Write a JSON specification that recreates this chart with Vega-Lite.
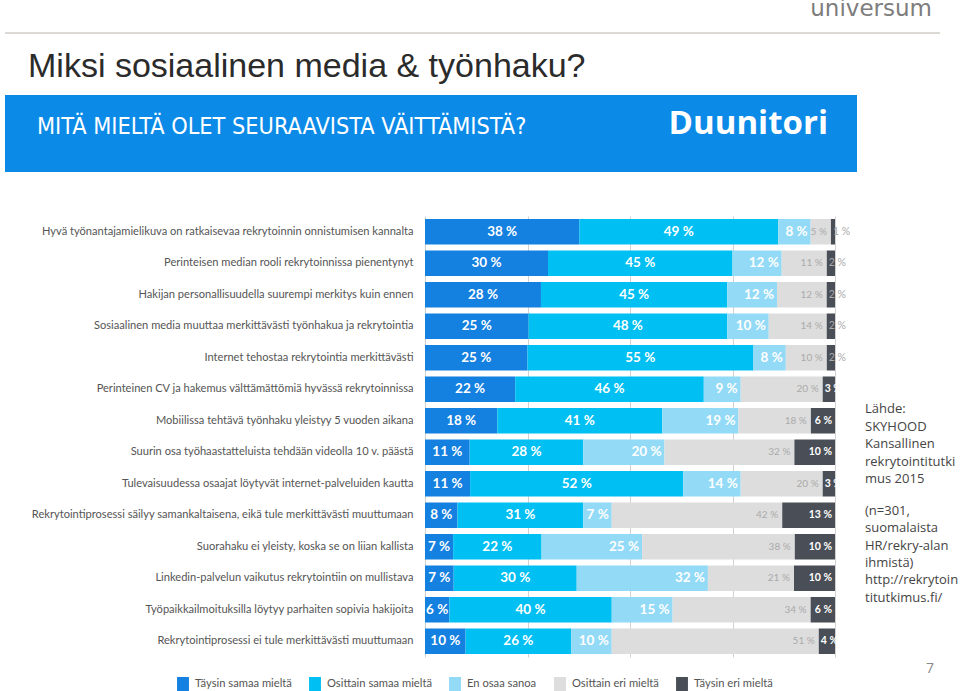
{
  "$schema": "https://vega.github.io/schema/vega-lite/v6.json",
  "background": "white",
  "padding": {"left": 5, "top": -2, "right": 0, "bottom": 0},
  "config": {"view": {"stroke": null}, "font": "Lato", "title": {"fontWeight": "normal"}},
  "datasets": {
    "answers": [
      {"q": "Hyvä työnantajamielikuva on ratkaisevaa rekrytoinnin onnistumisen kannalta", "Täysin samaa mieltä": 38, "Osittain samaa mieltä": 49, "En osaa sanoa": 8, "Osittain eri mieltä": 5, "Täysin eri mieltä": 1},
      {"q": "Perinteisen median rooli rekrytoinnissa pienentynyt", "Täysin samaa mieltä": 30, "Osittain samaa mieltä": 45, "En osaa sanoa": 12, "Osittain eri mieltä": 11, "Täysin eri mieltä": 2},
      {"q": "Hakijan personallisuudella suurempi merkitys kuin ennen", "Täysin samaa mieltä": 28, "Osittain samaa mieltä": 45, "En osaa sanoa": 12, "Osittain eri mieltä": 12, "Täysin eri mieltä": 2},
      {"q": "Sosiaalinen media muuttaa merkittävästi työnhakua ja rekrytointia", "Täysin samaa mieltä": 25, "Osittain samaa mieltä": 48, "En osaa sanoa": 10, "Osittain eri mieltä": 14, "Täysin eri mieltä": 2},
      {"q": "Internet tehostaa rekrytointia merkittävästi", "Täysin samaa mieltä": 25, "Osittain samaa mieltä": 55, "En osaa sanoa": 8, "Osittain eri mieltä": 10, "Täysin eri mieltä": 2},
      {"q": "Perinteinen CV ja hakemus välttämättömiä hyvässä rekrytoinnissa", "Täysin samaa mieltä": 22, "Osittain samaa mieltä": 46, "En osaa sanoa": 9, "Osittain eri mieltä": 20, "Täysin eri mieltä": 3},
      {"q": "Mobiilissa tehtävä työnhaku yleistyy 5 vuoden aikana", "Täysin samaa mieltä": 18, "Osittain samaa mieltä": 41, "En osaa sanoa": 19, "Osittain eri mieltä": 18, "Täysin eri mieltä": 6},
      {"q": "Suurin osa työhaastatteluista tehdään videolla 10 v. päästä", "Täysin samaa mieltä": 11, "Osittain samaa mieltä": 28, "En osaa sanoa": 20, "Osittain eri mieltä": 32, "Täysin eri mieltä": 10},
      {"q": "Tulevaisuudessa osaajat löytyvät internet-palveluiden kautta", "Täysin samaa mieltä": 11, "Osittain samaa mieltä": 52, "En osaa sanoa": 14, "Osittain eri mieltä": 20, "Täysin eri mieltä": 3},
      {"q": "Rekrytointiprosessi säilyy samankaltaisena, eikä tule merkittävästi muuttumaan", "Täysin samaa mieltä": 8, "Osittain samaa mieltä": 31, "En osaa sanoa": 7, "Osittain eri mieltä": 42, "Täysin eri mieltä": 13},
      {"q": "Suorahaku ei yleisty, koska se on liian kallista", "Täysin samaa mieltä": 7, "Osittain samaa mieltä": 22, "En osaa sanoa": 25, "Osittain eri mieltä": 38, "Täysin eri mieltä": 10},
      {"q": "Linkedin-palvelun vaikutus rekrytointiin on mullistava", "Täysin samaa mieltä": 7, "Osittain samaa mieltä": 30, "En osaa sanoa": 32, "Osittain eri mieltä": 21, "Täysin eri mieltä": 10},
      {"q": "Työpaikkailmoituksilla löytyy parhaiten sopivia hakijoita", "Täysin samaa mieltä": 6, "Osittain samaa mieltä": 40, "En osaa sanoa": 15, "Osittain eri mieltä": 34, "Täysin eri mieltä": 6},
      {"q": "Rekrytointiprosessi ei tule merkittävästi muuttumaan", "Täysin samaa mieltä": 10, "Osittain samaa mieltä": 26, "En osaa sanoa": 10, "Osittain eri mieltä": 51, "Täysin eri mieltä": 4}
    ],
    "cats": [
      {"c": "Täysin samaa mieltä", "o": 1},
      {"c": "Osittain samaa mieltä", "o": 2},
      {"c": "En osaa sanoa", "o": 3},
      {"c": "Osittain eri mieltä", "o": 4},
      {"c": "Täysin eri mieltä", "o": 5}
    ]
  },
  "spacing": 16,
  "vconcat": [
    {
      "width": 935,
      "height": 2,
      "view": {"fill": "#dcd9d5", "stroke": null},
      "data": {"values": [{"k": "u", "t": "universum"}]},
      "mark": {"type": "text", "align": "right", "baseline": "alphabetic", "font": "DejaVu Sans", "fontSize": 23, "color": "#7d7d7d"},
      "encoding": {
        "x": {"field": "k", "type": "nominal", "axis": null, "scale": {"range": [927, 927], "padding": 0}},
        "y": {"field": "k", "type": "nominal", "axis": null, "scale": {"range": [-16, -16], "padding": 0}},
        "text": {"field": "t"}
      }
    },
    {
      "width": 852,
      "height": 77,
      "view": {"fill": "#0b8ae7", "stroke": null},
      "title": {"text": "Miksi sosiaalinen media & työnhaku?", "anchor": "start", "font": "Liberation Sans", "fontSize": 34, "color": "#2b2b2b", "baseline": "alphabetic", "offset": -16, "dx": 23},
      "data": {"values": [{"k": "a", "t": "MITÄ MIELTÄ OLET SEURAAVISTA VÄITTÄMISTÄ?"}, {"k": "b", "t": "Duunitori"}]},
      "encoding": {
        "x": {"field": "k", "type": "nominal", "axis": null, "scale": {"domain": ["a", "b"], "range": [32, 823], "padding": 0}},
        "text": {"field": "t"}
      },
      "layer": [
        {"transform": [{"filter": "datum.k == 'a'"}], "mark": {"type": "text", "align": "left", "baseline": "alphabetic", "font": "DejaVu Sans Condensed", "fontSize": 23.3, "color": "white"}},
        {"transform": [{"filter": "datum.k == 'b'"}], "mark": {"type": "text", "align": "right", "baseline": "alphabetic", "font": "Open Sans", "fontWeight": "bold", "fontSize": 33, "color": "white"}}
      ]
    },
    {
      "bounds": "flush",
      "spacing": 30,
      "hconcat": [
        {
          "width": 830,
          "height": 441,
          "data": {"name": "answers"},
          "transform": [
            {"fold": ["Täysin samaa mieltä", "Osittain samaa mieltä", "En osaa sanoa", "Osittain eri mieltä", "Täysin eri mieltä"], "as": ["c", "v"]},
            {"lookup": "c", "from": {"data": {"name": "cats"}, "key": "c", "fields": ["o"]}},
            {"stack": "v", "groupby": ["q"], "sort": [{"field": "o", "order": "ascending"}], "offset": "normalize", "as": ["x0", "x1"]}
          ],
          "encoding": {
            "y": {
              "field": "q", "type": "nominal",
              "sort": [
                "Hyvä työnantajamielikuva on ratkaisevaa rekrytoinnin onnistumisen kannalta",
                "Perinteisen median rooli rekrytoinnissa pienentynyt",
                "Hakijan personallisuudella suurempi merkitys kuin ennen",
                "Sosiaalinen media muuttaa merkittävästi työnhakua ja rekrytointia",
                "Internet tehostaa rekrytointia merkittävästi",
                "Perinteinen CV ja hakemus välttämättömiä hyvässä rekrytoinnissa",
                "Mobiilissa tehtävä työnhaku yleistyy 5 vuoden aikana",
                "Suurin osa työhaastatteluista tehdään videolla 10 v. päästä",
                "Tulevaisuudessa osaajat löytyvät internet-palveluiden kautta",
                "Rekrytointiprosessi säilyy samankaltaisena, eikä tule merkittävästi muuttumaan",
                "Suorahaku ei yleisty, koska se on liian kallista",
                "Linkedin-palvelun vaikutus rekrytointiin on mullistava",
                "Työpaikkailmoituksilla löytyy parhaiten sopivia hakijoita",
                "Rekrytointiprosessi ei tule merkittävästi muuttumaan"
              ],
              "scale": {"paddingInner": 0.19, "paddingOuter": 0.095},
              "axis": {"title": null, "domain": false, "ticks": false, "offset": -420, "labelPadding": 12, "labelLimit": 0, "labelFont": "Lato", "labelFontSize": 11.1, "labelColor": "#555555"}
            }
          },
          "layer": [
            {
              "mark": {"type": "bar"},
              "encoding": {
                "x": {"field": "x0", "type": "quantitative", "scale": {"domain": [0, 1], "range": [420, 830]},
                  "axis": {"orient": "top", "values": [0, 0.25, 0.5, 0.75, 1], "grid": true, "gridColor": "#d2d2d2", "labels": false, "ticks": false, "domain": false, "title": null, "minExtent": 28}},
                "x2": {"field": "x1"},
                "color": {
                  "field": "c", "type": "nominal",
                  "scale": {"domain": ["Täysin samaa mieltä", "Osittain samaa mieltä", "En osaa sanoa", "Osittain eri mieltä", "Täysin eri mieltä"],
                            "range": ["#1480e0", "#00bff3", "#93daf6", "#dddddd", "#4a4e56"]},
                  "legend": {"orient": "none", "legendX": 171, "legendY": 645, "direction": "horizontal", "title": null,
                    "symbolType": "M-0.85,-1H0.85V1H-0.85Z", "symbolSize": 196, "symbolStrokeWidth": 0,
                    "labelFont": "Lato", "labelFontSize": 11.2, "labelColor": "#555555", "labelOffset": 5, "columnPadding": 16}
                }
              }
            },
            {
              "transform": [
                {"filter": "datum.o <= 2"},
                {"fold": ["x0", "x1"], "as": ["edge", "pos"]},
                {"aggregate": [{"op": "mean", "field": "pos", "as": "xm"}], "groupby": ["q", "c", "o", "v"]}
              ],
              "mark": {"type": "text", "color": "white", "font": "Lato", "fontWeight": "bold", "fontSize": 13.5, "baseline": "middle", "align": "center", "text": {"expr": "datum.v + ' %'"}},
              "encoding": {"x": {"field": "xm", "type": "quantitative"}}
            },
            {
              "transform": [{"filter": "datum.o == 3"}],
              "mark": {"type": "text", "color": "white", "font": "Lato", "fontWeight": "bold", "fontSize": 13.5, "baseline": "middle", "align": "right", "dx": -3, "text": {"expr": "datum.v + ' %'"}},
              "encoding": {"x": {"field": "x1", "type": "quantitative"}}
            },
            {
              "transform": [{"filter": "datum.o == 4"}],
              "mark": {"type": "text", "color": "#aaaaaa", "font": "Lato", "fontSize": 10, "baseline": "middle", "align": "right", "dx": -4, "text": {"expr": "datum.v + ' %'"}},
              "encoding": {"x": {"field": "x1", "type": "quantitative"}}
            },
            {
              "transform": [{"filter": "datum.o == 5 && datum.v >= 6"}],
              "mark": {"type": "text", "color": "white", "font": "Lato", "fontWeight": "bold", "fontSize": 10.5, "baseline": "middle", "align": "right", "dx": -3, "text": {"expr": "datum.v + ' %'"}},
              "encoding": {"x": {"field": "x1", "type": "quantitative"}}
            },
            {
              "transform": [{"filter": "datum.o == 5 && datum.v >= 3 && datum.v < 6"}],
              "mark": {"type": "text", "color": "white", "font": "Lato", "fontWeight": "bold", "fontSize": 10.5, "baseline": "middle", "align": "left", "dx": 2, "text": {"expr": "datum.v + ' %'"}},
              "encoding": {"x": {"field": "x0", "type": "quantitative"}}
            },
            {
              "transform": [{"filter": "datum.o == 5 && datum.v < 3"}],
              "mark": {"type": "text", "color": "#aaaaaa", "font": "Lato", "fontSize": 10.5, "baseline": "middle", "align": "left", "dx": 2, "text": {"expr": "datum.v + ' %'"}},
              "encoding": {"x": {"field": "x0", "type": "quantitative"}}
            }
          ]
        },
        {
          "width": 90,
          "height": 441,
          "data": {"values": [
            {"k": "src", "p": 1, "t": "Lähde:\nSKYHOOD\nKansallinen\nrekrytointitutki\nmus 2015"},
            {"k": "src", "p": 2, "t": "(n=301,\nsuomalaista\nHR/rekry-alan\nihmistä)\nhttp://rekrytoin\ntitutkimus.fi/"},
            {"k": "page", "p": 3, "t": "7"}
          ]},
          "encoding": {
            "x": {"field": "k", "type": "nominal", "axis": null, "scale": {"domain": ["src", "page"], "range": [0, 65], "padding": 0}},
            "y": {"field": "k", "type": "nominal", "axis": null, "scale": {"domain": ["src", "page"], "range": [187, 453], "padding": 0}},
            "text": {"field": "t"}
          },
          "layer": [
            {"transform": [{"filter": "datum.p == 1"}], "mark": {"type": "text", "align": "left", "baseline": "top", "lineBreak": "\n", "lineHeight": 17.5, "font": "Open Sans", "fontSize": 13, "color": "#444444"}},
            {"transform": [{"filter": "datum.p == 2"}], "mark": {"type": "text", "align": "left", "baseline": "top", "dy": 102, "lineBreak": "\n", "lineHeight": 17.3, "font": "Open Sans", "fontSize": 13, "color": "#444444"}},
            {"transform": [{"filter": "datum.p == 3"}], "mark": {"type": "text", "align": "center", "baseline": "middle", "font": "Open Sans", "fontSize": 14, "color": "#8a8a8a"}}
          ]
        }
      ]
    }
  ]
}
